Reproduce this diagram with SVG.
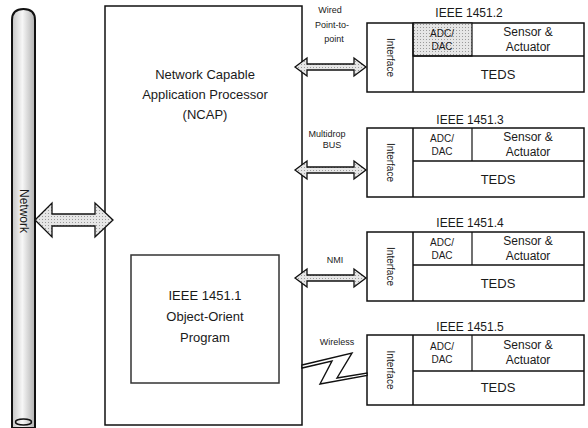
<svg xmlns="http://www.w3.org/2000/svg" width="588" height="428" viewBox="0 0 588 428">
<defs>
<linearGradient id="pipeG" x1="0" x2="1" y1="0" y2="0">
<stop offset="0" stop-color="#c4c4c4"/>
<stop offset="0.45" stop-color="#f7f7f7"/>
<stop offset="1" stop-color="#b0b0b0"/>
</linearGradient>
<pattern id="stip" width="3" height="3" patternUnits="userSpaceOnUse">
<rect width="3" height="3" fill="#e6e6e6"/>
<rect width="1" height="1" fill="#9a9a9a"/>
</pattern>
<g id="dblArrow">
<path d="M0,0 L12,-9 L12,-3 L59,-3 L59,-9 L71,0 L59,9 L59,3 L12,3 L12,9 Z"/>
</g>
</defs>
<style>
text{font-family:"Liberation Sans",Arial,sans-serif;fill:#1a1a1a}
.box{fill:#fff;stroke:#111;stroke-width:1.5}
.arr{fill:url(#stip);stroke:#111;stroke-width:1.3;stroke-linejoin:miter}
.t13{font-size:13px;text-anchor:middle}
.t12{font-size:12px;text-anchor:middle}
.t11{font-size:11px;text-anchor:middle}
.t10{font-size:10px;text-anchor:middle}
.t9{font-size:9px;text-anchor:middle}
</style>

<g id="network">
<path d="M12,20 Q12,9 23.5,9 Q35,9 35,20 L35,428 L12,428 Z" fill="url(#pipeG)" stroke="#111" stroke-width="2"/>
<ellipse cx="23.5" cy="422" rx="8" ry="3" fill="none" stroke="#111" stroke-width="1.5"/>
<text class="t12" transform="translate(24,211) rotate(90)" dominant-baseline="central">Network</text>
</g>

<g id="ncap">
<rect class="box" x="105" y="6" width="197" height="419"/>
<text class="t13" x="205" y="79">Network Capable</text>
<text class="t13" x="205" y="99">Application Processor</text>
<text class="t13" x="205" y="119">(NCAP)</text>
</g>

<g id="ieee1451_1">
<rect x="131" y="255" width="148" height="128" fill="#fff" stroke="#333" stroke-width="1.5"/>
<text class="t13" x="205" y="300">IEEE 1451.1</text>
<text class="t13" x="205" y="321">Object-Orient</text>
<text class="t13" x="205" y="342">Program</text>
</g>

<g id="m1">
<text class="t12" x="469" y="17">IEEE 1451.2</text>
<rect class="box" x="367" y="23" width="217" height="69"/>
<rect x="413" y="23" width="59" height="33" fill="url(#stip)" stroke="#111" stroke-width="1.2"/>
<line x1="413" y1="23" x2="413" y2="92" stroke="#111" stroke-width="1.5"/>
<line x1="413" y1="56" x2="584" y2="56" stroke="#111" stroke-width="1.5"/>
<text class="t10" transform="translate(390,57.5) rotate(90)" dominant-baseline="central">Interface</text>
<text class="t10" x="442" y="37">ADC/</text>
<text class="t10" x="442" y="50">DAC</text>
<text class="t12" x="528" y="36">Sensor &amp;</text>
<text class="t12" x="528" y="51">Actuator</text>
<text class="t13" x="498" y="79">TEDS</text>
</g>

<g id="m2">
<text class="t12" x="470" y="124">IEEE 1451.3</text>
<rect class="box" x="367" y="128" width="217" height="69"/>
<line x1="413" y1="128" x2="413" y2="197" stroke="#111" stroke-width="1.5"/>
<line x1="472" y1="128" x2="472" y2="161" stroke="#111" stroke-width="1.2"/>
<line x1="413" y1="161" x2="584" y2="161" stroke="#111" stroke-width="1.5"/>
<text class="t10" transform="translate(390,162.5) rotate(90)" dominant-baseline="central">Interface</text>
<text class="t10" x="442" y="142">ADC/</text>
<text class="t10" x="442" y="155">DAC</text>
<text class="t12" x="528" y="141">Sensor &amp;</text>
<text class="t12" x="528" y="156">Actuator</text>
<text class="t13" x="498" y="184">TEDS</text>
</g>

<g id="m3">
<text class="t12" x="470" y="227">IEEE 1451.4</text>
<rect class="box" x="367" y="232" width="217" height="69"/>
<line x1="413" y1="232" x2="413" y2="301" stroke="#111" stroke-width="1.5"/>
<line x1="472" y1="232" x2="472" y2="265" stroke="#111" stroke-width="1.2"/>
<line x1="413" y1="265" x2="584" y2="265" stroke="#111" stroke-width="1.5"/>
<text class="t10" transform="translate(390,266.5) rotate(90)" dominant-baseline="central">Interface</text>
<text class="t10" x="442" y="246">ADC/</text>
<text class="t10" x="442" y="259">DAC</text>
<text class="t12" x="528" y="245">Sensor &amp;</text>
<text class="t12" x="528" y="260">Actuator</text>
<text class="t13" x="498" y="288">TEDS</text>
</g>

<g id="m4">
<text class="t12" x="470" y="331">IEEE 1451.5</text>
<rect class="box" x="367" y="335" width="217" height="70"/>
<line x1="413" y1="335" x2="413" y2="405" stroke="#111" stroke-width="1.5"/>
<line x1="472" y1="335" x2="472" y2="371" stroke="#111" stroke-width="1.2"/>
<line x1="413" y1="371" x2="584" y2="371" stroke="#111" stroke-width="1.5"/>
<text class="t10" transform="translate(390,370) rotate(90)" dominant-baseline="central">Interface</text>
<text class="t10" x="442" y="350">ADC/</text>
<text class="t10" x="442" y="363">DAC</text>
<text class="t12" x="528" y="349">Sensor &amp;</text>
<text class="t12" x="528" y="364">Actuator</text>
<text class="t13" x="498" y="392">TEDS</text>
</g>

<g id="connectors">
<path class="arr" d="M35,220 L52,203 L52,214 L95,214 L95,203 L113,220 L95,237 L95,226 L52,226 L52,237 Z"/>
<use href="#dblArrow" class="arr" transform="translate(295,67)"/>
<use href="#dblArrow" class="arr" transform="translate(295,170)"/>
<use href="#dblArrow" class="arr" transform="translate(295,278)"/>
<path d="M302,365 L352,353 L337,378 L367,373 L367,375.5 L320,384 L332,361 L302,368 Z" fill="#fff" stroke="#111" stroke-width="1.4" stroke-linejoin="miter"/>
<text class="t9" x="330" y="13">Wired</text>
<text class="t9" x="332" y="28">Point-to-</text>
<text class="t9" x="334" y="42">point</text>
<text class="t9" x="327" y="137">Multidrop</text>
<text class="t9" x="332" y="148">BUS</text>
<text class="t9" x="335" y="263">NMI</text>
<text class="t9" x="337" y="345">Wireless</text>
</g>
</svg>
